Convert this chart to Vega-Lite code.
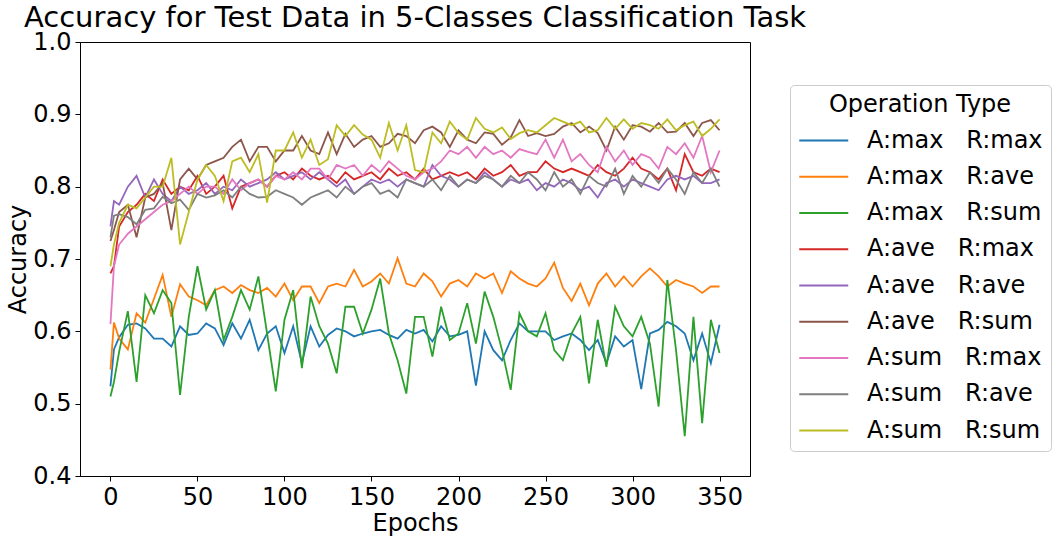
{
  "$schema": "https://vega.github.io/schema/vega-lite/v6.json",
  "width": 670,
  "height": 434,
  "autosize": {"type": "none"},
  "padding": {"left": 80, "top": 42, "right": 308, "bottom": 66},
  "title": {
    "text": "Accuracy for Test Data in 5-Classes Classification Task",
    "fontSize": 29,
    "fontWeight": "normal",
    "color": "black",
    "anchor": "middle",
    "frame": "group",
    "baseline": "alphabetic",
    "offset": -26
  },
  "data": {
    "values": [
      {"e": 0, "mm": 0.524, "ma": 0.547, "ms": 0.51, "am": 0.68, "aa": 0.745, "as": 0.725, "sm": 0.61, "sa": 0.73, "ss": 0.69},
      {"e": 2, "mm": 0.575, "ma": 0.612, "ms": 0.53, "am": 0.69, "aa": 0.78, "as": 0.74, "sm": 0.69, "sa": 0.76, "ss": 0.72},
      {"e": 5, "mm": 0.592, "ma": 0.59, "ms": 0.572, "am": 0.745, "aa": 0.775, "as": 0.765, "sm": 0.72, "sa": 0.762, "ss": 0.75},
      {"e": 10, "mm": 0.609, "ma": 0.575, "ms": 0.628, "am": 0.765, "aa": 0.8, "as": 0.775, "sm": 0.735, "sa": 0.758, "ss": 0.775},
      {"e": 15, "mm": 0.611, "ma": 0.625, "ms": 0.53, "am": 0.775, "aa": 0.815, "as": 0.73, "sm": 0.745, "sa": 0.748, "ss": 0.77},
      {"e": 20, "mm": 0.604, "ma": 0.612, "ms": 0.65, "am": 0.79, "aa": 0.785, "as": 0.785, "sm": 0.755, "sa": 0.768, "ss": 0.785},
      {"e": 25, "mm": 0.59, "ma": 0.645, "ms": 0.625, "am": 0.78, "aa": 0.81, "as": 0.79, "sm": 0.765, "sa": 0.77, "ss": 0.8},
      {"e": 30, "mm": 0.59, "ma": 0.678, "ms": 0.657, "am": 0.81, "aa": 0.79, "as": 0.805, "sm": 0.775, "sa": 0.786, "ss": 0.8},
      {"e": 35, "mm": 0.579, "ma": 0.62, "ms": 0.639, "am": 0.79, "aa": 0.78, "as": 0.74, "sm": 0.78, "sa": 0.777, "ss": 0.84},
      {"e": 40, "mm": 0.607, "ma": 0.665, "ms": 0.512, "am": 0.8, "aa": 0.8, "as": 0.81, "sm": 0.79, "sa": 0.782, "ss": 0.72},
      {"e": 45, "mm": 0.595, "ma": 0.648, "ms": 0.62, "am": 0.795, "aa": 0.79, "as": 0.825, "sm": 0.8, "sa": 0.768, "ss": 0.765},
      {"e": 50, "mm": 0.597, "ma": 0.643, "ms": 0.69, "am": 0.815, "aa": 0.795, "as": 0.81, "sm": 0.79, "sa": 0.79, "ss": 0.81},
      {"e": 55, "mm": 0.611, "ma": 0.636, "ms": 0.63, "am": 0.79, "aa": 0.805, "as": 0.83, "sm": 0.8, "sa": 0.785, "ss": 0.83},
      {"e": 60, "mm": 0.604, "ma": 0.657, "ms": 0.657, "am": 0.8, "aa": 0.79, "as": 0.835, "sm": 0.8, "sa": 0.788, "ss": 0.815},
      {"e": 65, "mm": 0.581, "ma": 0.662, "ms": 0.588, "am": 0.815, "aa": 0.8, "as": 0.84, "sm": 0.79, "sa": 0.795, "ss": 0.78},
      {"e": 70, "mm": 0.611, "ma": 0.653, "ms": 0.62, "am": 0.77, "aa": 0.795, "as": 0.855, "sm": 0.81, "sa": 0.785, "ss": 0.835},
      {"e": 75, "mm": 0.59, "ma": 0.664, "ms": 0.657, "am": 0.8, "aa": 0.81, "as": 0.865, "sm": 0.795, "sa": 0.8, "ss": 0.84},
      {"e": 80, "mm": 0.616, "ma": 0.657, "ms": 0.63, "am": 0.805, "aa": 0.8, "as": 0.835, "sm": 0.805, "sa": 0.79, "ss": 0.82},
      {"e": 85, "mm": 0.574, "ma": 0.653, "ms": 0.676, "am": 0.81, "aa": 0.805, "as": 0.855, "sm": 0.81, "sa": 0.785, "ss": 0.845},
      {"e": 90, "mm": 0.597, "ma": 0.66, "ms": 0.597, "am": 0.8, "aa": 0.81, "as": 0.855, "sm": 0.8, "sa": 0.786, "ss": 0.778},
      {"e": 95, "mm": 0.607, "ma": 0.648, "ms": 0.517, "am": 0.815, "aa": 0.82, "as": 0.835, "sm": 0.815, "sa": 0.795, "ss": 0.85},
      {"e": 100, "mm": 0.57, "ma": 0.666, "ms": 0.616, "am": 0.82, "aa": 0.81, "as": 0.85, "sm": 0.81, "sa": 0.79, "ss": 0.85},
      {"e": 105, "mm": 0.607, "ma": 0.643, "ms": 0.657, "am": 0.81, "aa": 0.815, "as": 0.85, "sm": 0.82, "sa": 0.785, "ss": 0.875},
      {"e": 110, "mm": 0.556, "ma": 0.662, "ms": 0.549, "am": 0.825, "aa": 0.82, "as": 0.87, "sm": 0.81, "sa": 0.775, "ss": 0.84},
      {"e": 115, "mm": 0.607, "ma": 0.662, "ms": 0.648, "am": 0.815, "aa": 0.81, "as": 0.85, "sm": 0.825, "sa": 0.785, "ss": 0.865},
      {"e": 120, "mm": 0.579, "ma": 0.639, "ms": 0.607, "am": 0.81, "aa": 0.82, "as": 0.845, "sm": 0.825, "sa": 0.79, "ss": 0.83},
      {"e": 125, "mm": 0.595, "ma": 0.662, "ms": 0.583, "am": 0.815, "aa": 0.81, "as": 0.875, "sm": 0.81, "sa": 0.795, "ss": 0.838},
      {"e": 130, "mm": 0.604, "ma": 0.666, "ms": 0.542, "am": 0.805, "aa": 0.8, "as": 0.845, "sm": 0.83, "sa": 0.785, "ss": 0.885},
      {"e": 135, "mm": 0.6, "ma": 0.662, "ms": 0.634, "am": 0.82, "aa": 0.81, "as": 0.873, "sm": 0.825, "sa": 0.8, "ss": 0.87},
      {"e": 140, "mm": 0.593, "ma": 0.685, "ms": 0.634, "am": 0.81, "aa": 0.79, "as": 0.855, "sm": 0.83, "sa": 0.79, "ss": 0.885},
      {"e": 145, "mm": 0.597, "ma": 0.662, "ms": 0.597, "am": 0.815, "aa": 0.8, "as": 0.865, "sm": 0.815, "sa": 0.8, "ss": 0.872},
      {"e": 150, "mm": 0.6, "ma": 0.669, "ms": 0.63, "am": 0.82, "aa": 0.81, "as": 0.87, "sm": 0.83, "sa": 0.805, "ss": 0.865},
      {"e": 155, "mm": 0.602, "ma": 0.68, "ms": 0.673, "am": 0.81, "aa": 0.805, "as": 0.855, "sm": 0.82, "sa": 0.79, "ss": 0.84},
      {"e": 160, "mm": 0.595, "ma": 0.666, "ms": 0.597, "am": 0.825, "aa": 0.81, "as": 0.86, "sm": 0.835, "sa": 0.795, "ss": 0.888},
      {"e": 165, "mm": 0.59, "ma": 0.701, "ms": 0.56, "am": 0.815, "aa": 0.8, "as": 0.873, "sm": 0.825, "sa": 0.785, "ss": 0.85},
      {"e": 170, "mm": 0.602, "ma": 0.666, "ms": 0.514, "am": 0.82, "aa": 0.81, "as": 0.87, "sm": 0.815, "sa": 0.81, "ss": 0.885},
      {"e": 175, "mm": 0.597, "ma": 0.662, "ms": 0.62, "am": 0.81, "aa": 0.805, "as": 0.86, "sm": 0.81, "sa": 0.805, "ss": 0.823},
      {"e": 180, "mm": 0.602, "ma": 0.68, "ms": 0.62, "am": 0.825, "aa": 0.8, "as": 0.878, "sm": 0.82, "sa": 0.8, "ss": 0.82},
      {"e": 185, "mm": 0.586, "ma": 0.669, "ms": 0.565, "am": 0.81, "aa": 0.83, "as": 0.883, "sm": 0.825, "sa": 0.81, "ss": 0.875},
      {"e": 190, "mm": 0.607, "ma": 0.648, "ms": 0.634, "am": 0.815, "aa": 0.815, "as": 0.875, "sm": 0.835, "sa": 0.795, "ss": 0.86},
      {"e": 195, "mm": 0.593, "ma": 0.666, "ms": 0.588, "am": 0.82, "aa": 0.81, "as": 0.855, "sm": 0.85, "sa": 0.815, "ss": 0.89},
      {"e": 200, "mm": 0.595, "ma": 0.671, "ms": 0.597, "am": 0.815, "aa": 0.8, "as": 0.878, "sm": 0.845, "sa": 0.8, "ss": 0.874},
      {"e": 205, "mm": 0.6, "ma": 0.662, "ms": 0.639, "am": 0.82, "aa": 0.81, "as": 0.865, "sm": 0.855, "sa": 0.81, "ss": 0.865},
      {"e": 210, "mm": 0.525, "ma": 0.68, "ms": 0.583, "am": 0.81, "aa": 0.805, "as": 0.86, "sm": 0.84, "sa": 0.805, "ss": 0.895},
      {"e": 215, "mm": 0.6, "ma": 0.673, "ms": 0.655, "am": 0.825, "aa": 0.82, "as": 0.875, "sm": 0.855, "sa": 0.815, "ss": 0.88},
      {"e": 220, "mm": 0.574, "ma": 0.68, "ms": 0.62, "am": 0.815, "aa": 0.81, "as": 0.873, "sm": 0.845, "sa": 0.81, "ss": 0.875},
      {"e": 225, "mm": 0.56, "ma": 0.653, "ms": 0.574, "am": 0.82, "aa": 0.8, "as": 0.858, "sm": 0.85, "sa": 0.8, "ss": 0.882},
      {"e": 230, "mm": 0.588, "ma": 0.683, "ms": 0.519, "am": 0.83, "aa": 0.81, "as": 0.868, "sm": 0.84, "sa": 0.815, "ss": 0.866},
      {"e": 235, "mm": 0.611, "ma": 0.673, "ms": 0.625, "am": 0.815, "aa": 0.805, "as": 0.892, "sm": 0.852, "sa": 0.805, "ss": 0.874},
      {"e": 240, "mm": 0.6, "ma": 0.666, "ms": 0.6, "am": 0.82, "aa": 0.81, "as": 0.87, "sm": 0.848, "sa": 0.82, "ss": 0.878},
      {"e": 245, "mm": 0.6, "ma": 0.662, "ms": 0.593, "am": 0.82, "aa": 0.795, "as": 0.874, "sm": 0.845, "sa": 0.81, "ss": 0.875},
      {"e": 250, "mm": 0.6, "ma": 0.673, "ms": 0.625, "am": 0.835, "aa": 0.805, "as": 0.87, "sm": 0.865, "sa": 0.795, "ss": 0.885},
      {"e": 255, "mm": 0.588, "ma": 0.695, "ms": 0.574, "am": 0.825, "aa": 0.8, "as": 0.873, "sm": 0.84, "sa": 0.82, "ss": 0.895},
      {"e": 260, "mm": 0.593, "ma": 0.66, "ms": 0.56, "am": 0.82, "aa": 0.81, "as": 0.883, "sm": 0.865, "sa": 0.8, "ss": 0.89},
      {"e": 265, "mm": 0.597, "ma": 0.642, "ms": 0.597, "am": 0.825, "aa": 0.805, "as": 0.888, "sm": 0.835, "sa": 0.81, "ss": 0.885},
      {"e": 270, "mm": 0.588, "ma": 0.666, "ms": 0.62, "am": 0.82, "aa": 0.795, "as": 0.875, "sm": 0.845, "sa": 0.79, "ss": 0.89},
      {"e": 275, "mm": 0.574, "ma": 0.636, "ms": 0.528, "am": 0.815, "aa": 0.8, "as": 0.883, "sm": 0.83, "sa": 0.815, "ss": 0.875},
      {"e": 280, "mm": 0.588, "ma": 0.666, "ms": 0.616, "am": 0.83, "aa": 0.785, "as": 0.874, "sm": 0.82, "sa": 0.805, "ss": 0.878},
      {"e": 285, "mm": 0.556, "ma": 0.68, "ms": 0.551, "am": 0.82, "aa": 0.805, "as": 0.85, "sm": 0.855, "sa": 0.8, "ss": 0.895},
      {"e": 290, "mm": 0.593, "ma": 0.662, "ms": 0.634, "am": 0.815, "aa": 0.81, "as": 0.883, "sm": 0.835, "sa": 0.825, "ss": 0.88},
      {"e": 295, "mm": 0.579, "ma": 0.676, "ms": 0.607, "am": 0.825, "aa": 0.8, "as": 0.865, "sm": 0.85, "sa": 0.79, "ss": 0.893},
      {"e": 300, "mm": 0.588, "ma": 0.662, "ms": 0.593, "am": 0.84, "aa": 0.81, "as": 0.885, "sm": 0.83, "sa": 0.815, "ss": 0.88},
      {"e": 305, "mm": 0.52, "ma": 0.676, "ms": 0.62, "am": 0.825, "aa": 0.805, "as": 0.883, "sm": 0.845, "sa": 0.8, "ss": 0.888},
      {"e": 310, "mm": 0.597, "ma": 0.687, "ms": 0.583, "am": 0.82, "aa": 0.8, "as": 0.876, "sm": 0.84, "sa": 0.82, "ss": 0.885},
      {"e": 315, "mm": 0.602, "ma": 0.676, "ms": 0.496, "am": 0.81, "aa": 0.795, "as": 0.888, "sm": 0.825, "sa": 0.805, "ss": 0.88},
      {"e": 320, "mm": 0.613, "ma": 0.662, "ms": 0.671, "am": 0.825, "aa": 0.81, "as": 0.875, "sm": 0.855, "sa": 0.825, "ss": 0.893},
      {"e": 325, "mm": 0.607, "ma": 0.671, "ms": 0.574, "am": 0.795, "aa": 0.815, "as": 0.876, "sm": 0.845, "sa": 0.81, "ss": 0.878},
      {"e": 330, "mm": 0.597, "ma": 0.666, "ms": 0.455, "am": 0.845, "aa": 0.81, "as": 0.888, "sm": 0.86, "sa": 0.79, "ss": 0.885},
      {"e": 335, "mm": 0.56, "ma": 0.662, "ms": 0.62, "am": 0.82, "aa": 0.815, "as": 0.87, "sm": 0.84, "sa": 0.82, "ss": 0.89},
      {"e": 340, "mm": 0.597, "ma": 0.653, "ms": 0.473, "am": 0.815, "aa": 0.805, "as": 0.888, "sm": 0.87, "sa": 0.805, "ss": 0.87},
      {"e": 345, "mm": 0.556, "ma": 0.662, "ms": 0.616, "am": 0.825, "aa": 0.805, "as": 0.892, "sm": 0.82, "sa": 0.825, "ss": 0.88},
      {"e": 350, "mm": 0.609, "ma": 0.662, "ms": 0.57, "am": 0.82, "aa": 0.81, "as": 0.878, "sm": 0.85, "sa": 0.8, "ss": 0.893}
    ]
  },
  "transform": [
    {"fold": ["mm", "ma", "ms", "am", "aa", "as", "sm", "sa", "ss"], "as": ["k", "v"]}
  ],
  "mark": {"type": "line", "strokeWidth": 1.8},
  "encoding": {
    "x": {
      "field": "e",
      "type": "quantitative",
      "scale": {"domain": [-17.5, 367.5], "nice": false, "zero": false},
      "axis": {"values": [0, 50, 100, 150, 200, 250, 300, 350], "title": "Epochs"}
    },
    "y": {
      "field": "v",
      "type": "quantitative",
      "scale": {"domain": [0.4, 1.0], "nice": false, "zero": false},
      "axis": {"values": [0.4, 0.5, 0.6, 0.7, 0.8, 0.9, 1.0], "format": ".1f", "title": "Accuracy"}
    },
    "color": {
      "field": "k",
      "type": "nominal",
      "scale": {
        "domain": ["mm", "ma", "ms", "am", "aa", "as", "sm", "sa", "ss"],
        "range": ["#1f77b4", "#ff7f0e", "#2ca02c", "#d62728", "#9467bd", "#8c564b", "#e377c2", "#7f7f7f", "#bcbd22"]
      },
      "legend": {
        "title": "Operation Type",
        "orient": "none",
        "legendX": 710,
        "legendY": 43,
        "labelExpr": "{'mm': 'A:max\u00a0\u00a0\u00a0R:max', 'ma': 'A:max\u00a0\u00a0\u00a0R:ave', 'ms': 'A:max\u00a0\u00a0\u00a0R:sum', 'am': 'A:ave\u00a0\u00a0\u00a0R:max', 'aa': 'A:ave\u00a0\u00a0\u00a0R:ave', 'as': 'A:ave\u00a0\u00a0\u00a0R:sum', 'sm': 'A:sum\u00a0\u00a0\u00a0R:max', 'sa': 'A:sum\u00a0\u00a0\u00a0R:ave', 'ss': 'A:sum\u00a0\u00a0\u00a0R:sum'}[datum.label]",
        "symbolType": "M-1,0H3",
        "symbolSize": 600,
        "symbolStrokeWidth": 2,
        "labelFontSize": 24,
        "labelLimit": 400,
        "titleFontSize": 24,
        "titleFontWeight": "normal",
        "titleAnchor": "middle",
        "titleLimit": 400,
        "strokeColor": "#cccccc",
        "fillColor": "white",
        "cornerRadius": 4,
        "padding": 8,
        "rowPadding": 10.25,
        "labelOffset": 42,
        "titlePadding": 10
      }
    }
  },
  "config": {
    "font": "DejaVu Sans",
    "view": {"stroke": "black", "strokeWidth": 1},
    "axis": {
      "grid": false,
      "labelFontSize": 24,
      "titleFontSize": 24,
      "titleFontWeight": "normal",
      "labelColor": "black",
      "titleColor": "black",
      "domainColor": "black",
      "tickColor": "black",
      "tickSize": 5,
      "labelPadding": 4,
      "labelFlush": false,
      "labelOverlap": false
    },
    "axisY": {"titlePadding": 2},
    "axisX": {"titlePadding": 2},
    "legend": {"labelColor": "black", "titleColor": "black"}
  }
}
